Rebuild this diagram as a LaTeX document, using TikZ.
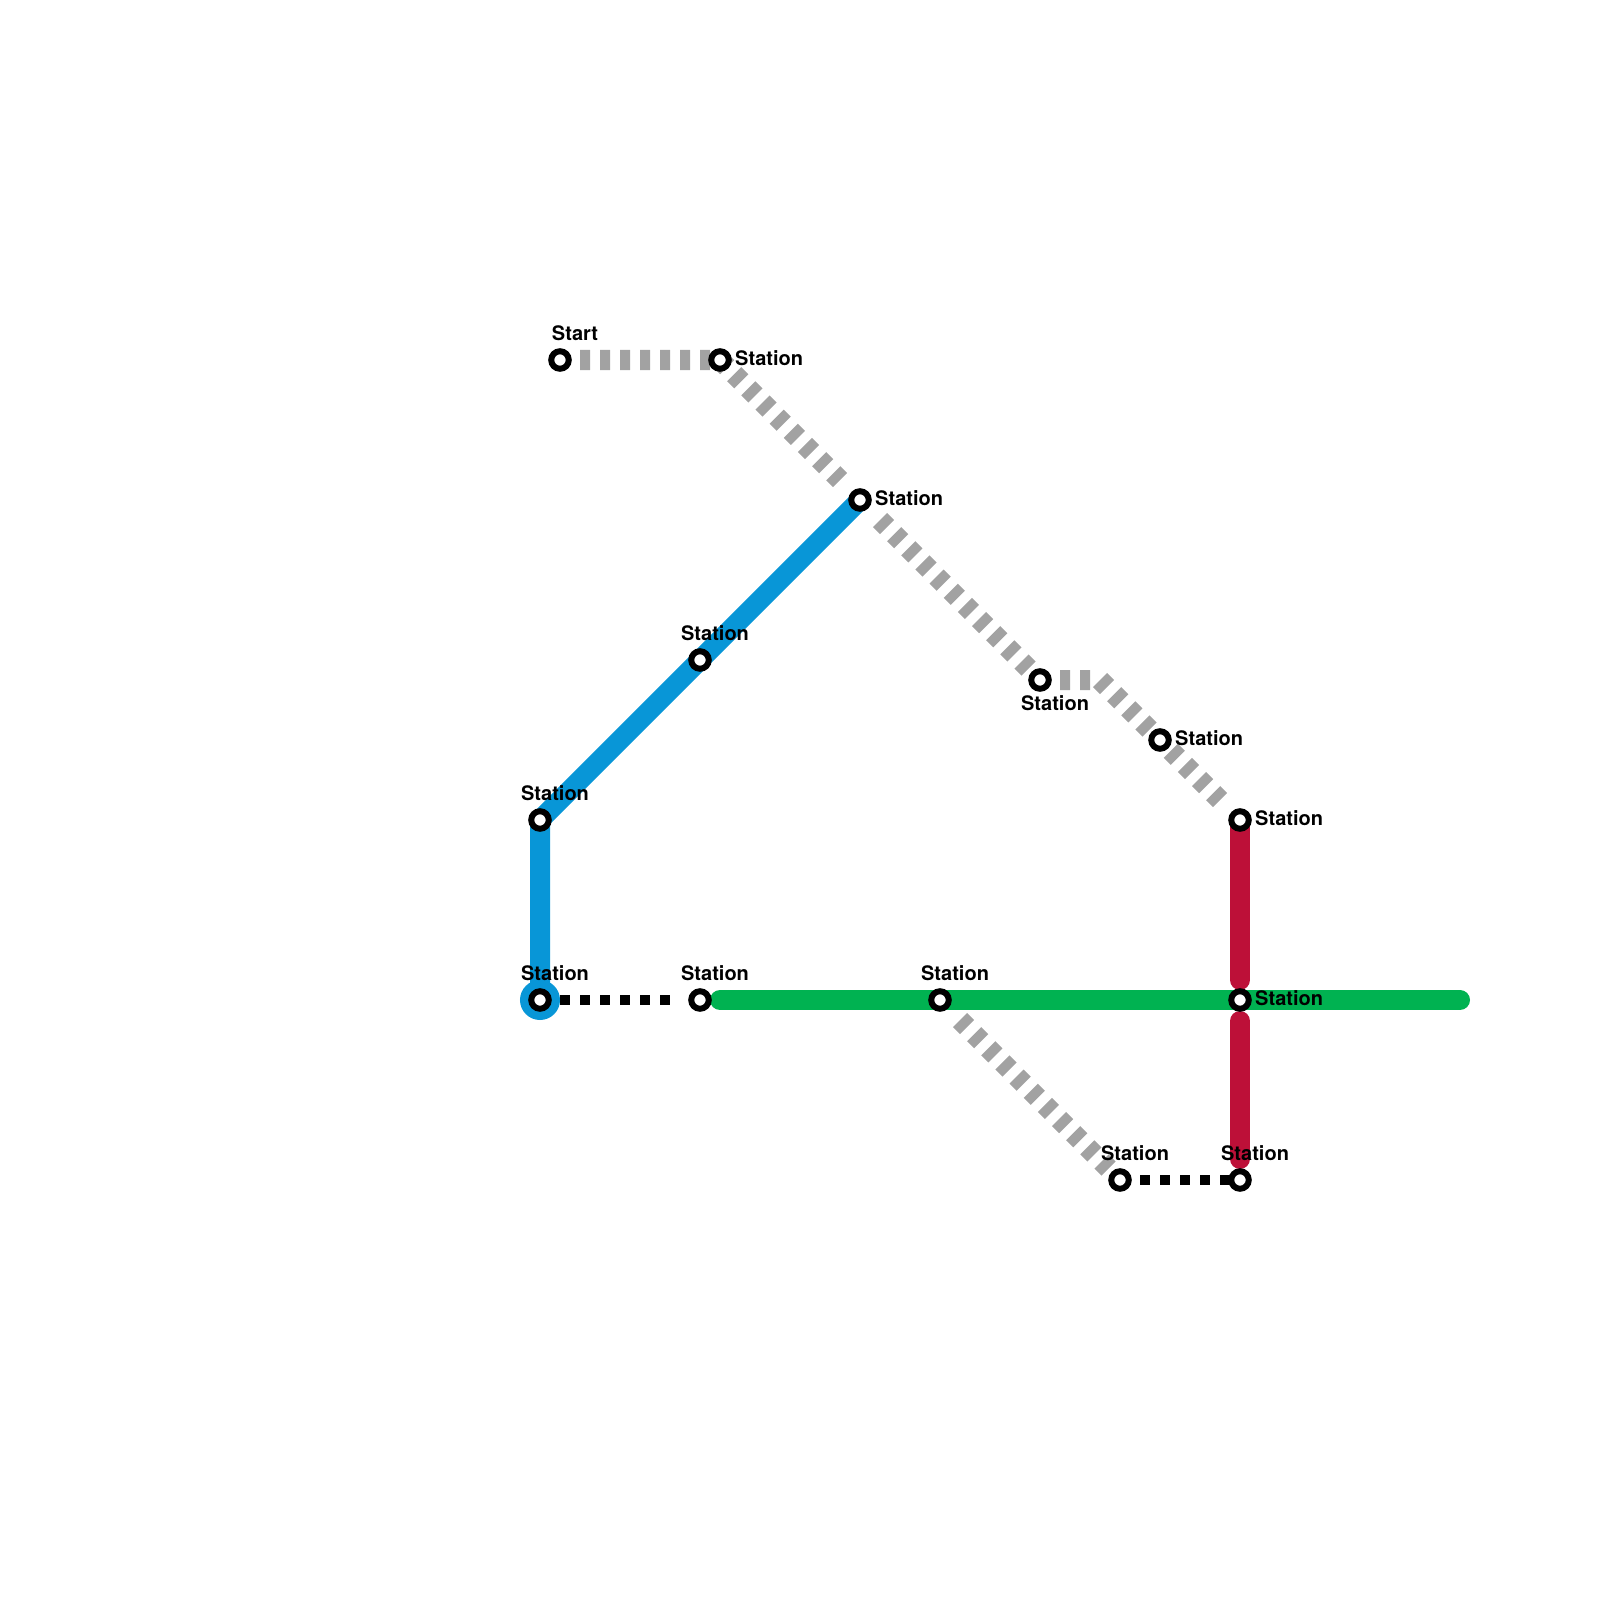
\documentclass[tikz,border=0pt]{standalone}
\usepackage{fontspec}
\setsansfont{TeX Gyre Heros}
\usetikzlibrary{backgrounds}
\definecolor{lineblue}{HTML}{0896D7}
\definecolor{linegreen}{HTML}{00B251}
\definecolor{linered}{HTML}{BD1038}
\definecolor{linegray}{HTML}{A2A2A2}
\tikzstyle{station} = [circle, draw=black, fill=white, line width=0.06cm, minimum size=0.175cm, inner sep=0pt]
\tikzstyle{hub} = [circle, fill=lineblue, minimum size=0.4cm, inner sep=0pt]
\tikzstyle{lbl} = [font=\sffamily\bfseries\fontsize{5.69pt}{6pt}\selectfont, inner sep=0pt, text=black]
\tikzstyle{lblabove} = [lbl, anchor=base, xshift=0.15cm, yshift=0.195cm]
\tikzstyle{lblright} = [lbl, anchor=base west, xshift=0.145cm, yshift=-0.05cm]
\tikzstyle{lblbelow} = [lbl, anchor=base, xshift=0.15cm, yshift=-0.3cm]
\tikzstyle{solidline} = [line width=0.2cm]
\tikzstyle{grayline} = [line width=0.2cm, draw=linegray, dash pattern=on 0.1cm off 0.1cm]
\tikzstyle{blackline} = [line width=0.1cm, draw=black, dash pattern=on 0.1cm off 0.1cm]
\begin{document}
\begin{tikzpicture}[x=0.01cm, y=-0.01cm]
	\useasboundingbox (0,0) rectangle (1600,1600);

	\node (hub) [hub] at (540,1000) {};

	\node (start) [station] at (560,360) {};
	\node (top) [station] at (720,360) {};
	\node (apex) [station] at (860,500) {};
	\node (mid) [station] at (700,660) {};
	\node (corner) [station] at (540,820) {};
	\node (left) [station] at (540,1000) {};
	\node (gate) [station] at (700,1000) {};
	\node (branch) [station] at (940,1000) {};
	\node (east) [station] at (1040,680) {};
	\node (slope) [station] at (1160,740) {};
	\node (redtop) [station] at (1240,820) {};
	\node (cross) [station] at (1240,1000) {};
	\node (south) [station] at (1120,1180) {};
	\node (redend) [station] at (1240,1180) {};

	\coordinate (grayz) at (580,360);
	\coordinate (graya) at (840,480);
	\coordinate (grayb) at (880,520);
	\coordinate (grayc) at (1030,670);
	\coordinate (grayy) at (1060,680);
	\coordinate (bend) at (1100,680);
	\coordinate (grayd) at (1220,800);
	\coordinate (graye) at (960,1020);
	\coordinate (grayf) at (1110,1170);
	\coordinate (dotstop) at (680,1000);
	\coordinate (greenstart) at (720,1000);
	\coordinate (greenend) at (1460,1000);
	\coordinate (redstopa) at (1240,980);
	\coordinate (redstopb) at (1240,1021);
	\coordinate (redstopc) at (1240,1159);

	\node (lstart) [lblabove] at (start) {Start};
	\node (ltop) [lblright] at (top) {Station};
	\node (lapex) [lblright] at (apex) {Station};
	\node (lmid) [lblabove] at (mid) {Station};
	\node (lcorner) [lblabove] at (corner) {Station};
	\node (lleft) [lblabove] at (left) {Station};
	\node (lgate) [lblabove] at (gate) {Station};
	\node (lbranch) [lblabove] at (branch) {Station};
	\node (least) [lblbelow] at (east) {Station};
	\node (lslope) [lblright] at (slope) {Station};
	\node (lredtop) [lblright] at (redtop) {Station};
	\node (lcross) [lblright] at (cross) {Station};
	\node (lsouth) [lblabove] at (south) {Station};
	\node (lredend) [lblabove] at (redend) {Station};

	\begin{scope}[on background layer]
		\draw[grayline] (grayz) -- (top.center) -- (graya);
		\draw[grayline] (grayb) -- (grayc);
		\draw[grayline] (grayy) -- (bend) -- (grayd);
		\draw[grayline] (graye) -- (grayf);
		\draw[blackline] (left.center) -- (dotstop);
		\draw[blackline] (south.center) -- (redend.center);
		\draw[solidline, draw=lineblue] (apex.center) -- (corner.center) -- (left.center);
		\draw[solidline, draw=linegreen, line cap=round] (greenstart) -- (greenend);
		\draw[solidline, draw=linered, line cap=round] (redtop.center) -- (redstopa);
		\draw[solidline, draw=linered, line cap=round] (redstopb) -- (redstopc);
	\end{scope}
\end{tikzpicture}
\end{document}
